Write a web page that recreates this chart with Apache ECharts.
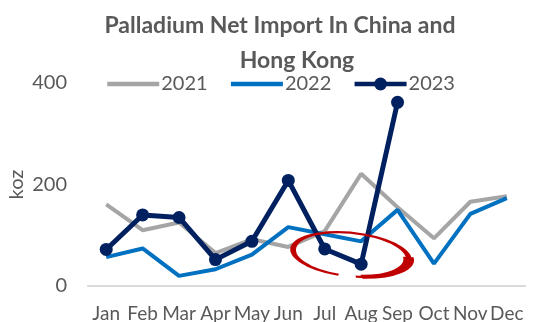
<!DOCTYPE html>
<html>
<head>
<meta charset="utf-8">
<script src="https://cdn.jsdelivr.net/npm/echarts@6/dist/echarts.min.js"></script>
<style>
  html, body { margin: 0; padding: 0; background: #fff; }
  #chart { width: 546px; height: 322px; }
</style>
</head>
<body>
<div id="chart"></div>
<script>
// Monthly palladium net imports into China and Hong Kong (koz)
const months = ['Jan', 'Feb', 'Mar', 'Apr', 'May', 'Jun', 'Jul', 'Aug', 'Sep', 'Oct', 'Nov', 'Dec'];
const imports2021 = [161, 110, 125, 65, 92, 77, 108, 221, 155, 94, 166, 177];
const imports2022 = [57, 74, 20, 33, 62, 116, 102, 88, 150, 44, 142, 173];
const imports2023 = [72, 140, 135, 52, 88, 208, 73, 43, 362, null, null, null];
const yTicks = [0, 200, 400];

const FONT = 'Lato';
const TEXT = '#595959';

const chart = echarts.init(document.getElementById('chart'), null, { renderer: 'canvas' });

chart.setOption({
  animation: false,
  backgroundColor: '#ffffff',
  textStyle: { fontFamily: FONT },
  title: [
    {
      text: 'Palladium Net Import In China and',
      left: 275, top: 9, textAlign: 'center',
      textStyle: { fontFamily: FONT, fontWeight: 'bold', fontSize: 23, color: TEXT }
    },
    {
      text: 'Hong Kong',
      left: 292, top: 44, textAlign: 'center',
      textStyle: { fontFamily: FONT, fontWeight: 'bold', fontSize: 23, color: TEXT }
    }
  ],
  legend: {
    left: 100, top: 69,
    itemWidth: 52, itemHeight: 16, itemGap: 21,
    lineStyle: { width: 4.5 },
    textStyle: { fontFamily: FONT, fontSize: 20, color: TEXT, padding: [0, 0, 0, -3] },
    data: [
      { name: '2021', itemStyle: { opacity: 0 } },
      { name: '2022', itemStyle: { opacity: 0 } },
      { name: '2023' }
    ]
  },
  grid: { left: 88, right: 21, top: 83, bottom: 36, containLabel: false, outerBoundsMode: 'none' },
  xAxis: {
    type: 'category',
    data: months,
    boundaryGap: true,
    axisLine: { lineStyle: { color: '#d9d9d9', width: 2 } },
    axisTick: { show: false },
    axisLabel: { fontFamily: FONT, fontSize: 19, color: TEXT, margin: 18, interval: 0 }
  },
  yAxis: {
    type: 'value',
    min: 0, max: yTicks[yTicks.length - 1], interval: yTicks[1] - yTicks[0],
    name: 'koz',
    nameLocation: 'middle',
    nameRotate: 90,
    nameGap: 61,
    nameMoveOverlap: false,
    nameTextStyle: { fontFamily: FONT, fontSize: 20, color: TEXT },
    axisLine: { show: false },
    axisTick: { show: false },
    splitLine: { show: false },
    axisLabel: { fontFamily: FONT, fontSize: 20, color: TEXT, margin: 21 }
  },
  series: [
    {
      name: '2021', type: 'line', data: imports2021,
      symbol: 'none', color: '#A5A5A5',
      lineStyle: { width: 4, color: '#A5A5A5' }
    },
    {
      name: '2022', type: 'line', data: imports2022,
      symbol: 'none', color: '#0070C0',
      lineStyle: { width: 4, color: '#0070C0' }
    },
    {
      name: '2023', type: 'line', data: imports2023,
      symbol: 'circle', symbolSize: 13, color: '#002060',
      itemStyle: { color: '#002060' },
      lineStyle: { width: 5, color: '#002060' }
    }
  ]
});

// Hand-drawn style red ring highlighting the Jul–Aug dip
const pJul = chart.convertToPixel({ xAxisIndex: 0, yAxisIndex: 0 }, ['Jul', 62]);
const pAug = chart.convertToPixel({ xAxisIndex: 0, yAxisIndex: 0 }, ['Aug', 62]);
const cx = pJul[0] + (pAug[0] - pJul[0]) * 0.72;
const cy = pJul[1];
const ringScaleY = 22 / 59;

chart.setOption({
  graphic: [
    {
      type: 'arc',
      x: cx, y: cy,
      rotation: -0.1,
      scaleY: ringScaleY,
      shape: { cx: 0, cy: 0, r: 58, startAngle: 1.75, endAngle: 1.45 + Math.PI * 2, clockwise: true },
      style: { fill: 'none', stroke: '#C00000', lineWidth: 3.5, strokeNoScale: true },
      z: 100
    },
    {
      type: 'arc',
      x: cx, y: cy,
      rotation: -0.1,
      scaleY: ringScaleY,
      shape: { cx: 0, cy: 0, r: 58, startAngle: -0.15, endAngle: 1.35, clockwise: true },
      style: { fill: 'none', stroke: '#C00000', lineWidth: 6.5, strokeNoScale: true },
      z: 100
    }
  ]
});
</script>
</body>
</html>
